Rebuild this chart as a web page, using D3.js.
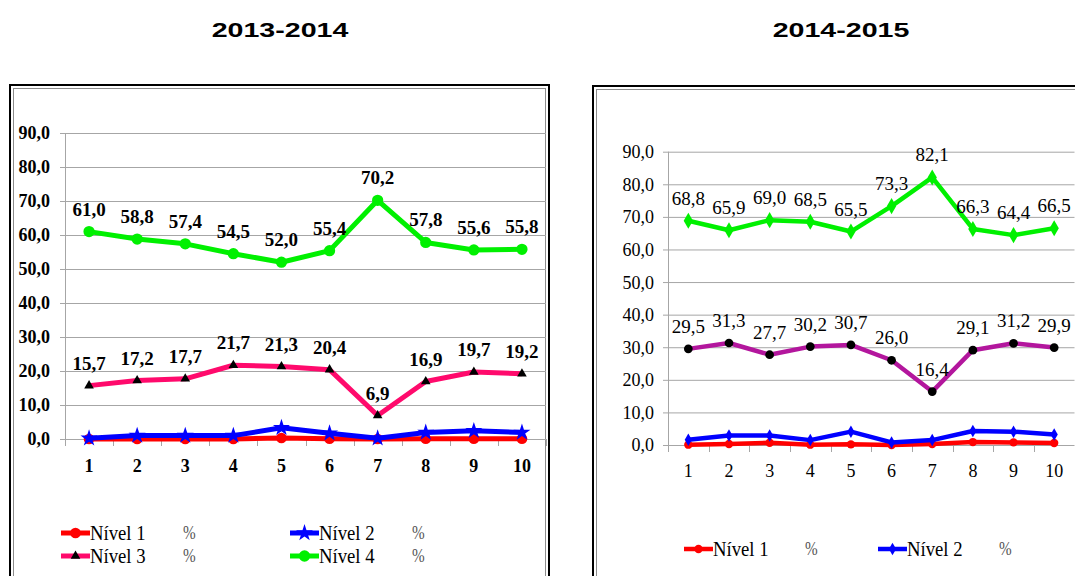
<!DOCTYPE html>
<html>
<head>
<meta charset="utf-8">
<script src="https://cdn.jsdelivr.net/npm/d3@7"></script>
<style>
  body { margin: 0; background: #fff; }
  svg { display: block; }
</style>
</head>
<body>
<div id="chart"></div>
<script>
// categories and tick values
const categories = ["1", "2", "3", "4", "5", "6", "7", "8", "9", "10"];
const yTicks = [0, 10, 20, 30, 40, 50, 60, 70, 80, 90];

// 2013-2014
const nivel1_1314 = [0.0, 0.0, 0.0, 0.0, 0.3, 0.1, 0.0, 0.1, 0.1, 0.1];
const nivel2_1314 = [0.2, 1.0, 1.0, 1.0, 3.3, 1.7, 0.2, 1.9, 2.4, 1.9];
const nivel3_1314 = [15.7, 17.2, 17.7, 21.7, 21.3, 20.4, 6.9, 16.9, 19.7, 19.2];
const nivel4_1314 = [61.0, 58.8, 57.4, 54.5, 52.0, 55.4, 70.2, 57.8, 55.6, 55.8];

// 2014-2015
const nivel1_1415 = [0.1, 0.3, 0.7, 0.1, 0.2, 0.0, 0.3, 0.9, 0.8, 0.6];
const nivel2_1415 = [1.6, 2.9, 2.9, 1.5, 4.1, 0.8, 1.5, 4.3, 4.1, 3.2];
const nivel3_1415 = [29.5, 31.3, 27.7, 30.2, 30.7, 26.0, 16.4, 29.1, 31.2, 29.9];
const nivel4_1415 = [68.8, 65.9, 69.0, 68.5, 65.5, 73.3, 82.1, 66.3, 64.4, 66.5];

const titles = ["2013-2014", "2014-2015"];

const W = 1075, H = 576;
const serif = "Liberation Serif";
const sans = "Liberation Sans";
const fmt = v => d3.format(".1f")(v).replace(".", ",");

const svg = d3.select("#chart").append("svg")
    .attr("width", W)
    .attr("height", H);

const panels = [
    {
        title: titles[0],
        titleX: 280,
        frame: { x: 10, y: 85, r: 549 },
        xRange: [65, 546],
        yRange: [439, 133],
        yLabelX: 50,
        xLabelY: 472,
        bold: "bold",
        series: [
            { name: "Nível 1", values: nivel1_1314, color: "#ff0000", symbol: d3.symbolCircle, size: 90, mark: "#ff0000", width: 5, labels: false },
            { name: "Nível 2", values: nivel2_1314, color: "#0000ff", symbol: d3.symbolStar, size: 90, mark: "#0000ff", width: 5, labels: false },
            { name: "Nível 3", values: nivel3_1314, color: "#ff0a6c", symbol: d3.symbolTriangle, size: 40, mark: "#000", width: 5, labels: true },
            { name: "Nível 4", values: nivel4_1314, color: "#00f000", symbol: d3.symbolCircle, size: 100, mark: "#00f000", width: 5, labels: true }
        ],
        legend: { cols: [61, 290], rows: [533, 556], pct: 122, perRow: 2 }
    },
    {
        title: titles[1],
        titleX: 841,
        frame: { x: 593, y: 86, r: 1100 },
        xRange: [668, 1074.5],
        yRange: [445, 151.7],
        yLabelX: 654,
        xLabelY: 477,
        bold: "normal",
        series: [
            { name: "Nível 1", values: nivel1_1415, color: "#ff0000", symbol: d3.symbolCircle, size: 55, mark: "#ff0000", width: 4.5, labels: false },
            { name: "Nível 2", values: nivel2_1415, color: "#0000ff", symbol: d3.symbolDiamond, size: 45, mark: "#0000ff", width: 4.5, labels: false },
            { name: "Nível 3", values: nivel3_1415, color: "#b3169d", symbol: d3.symbolCircle, size: 60, mark: "#000", width: 4.5, labels: true },
            { name: "Nível 4", values: nivel4_1415, color: "#00f000", symbol: d3.symbolDiamond, size: 75, mark: "#00f000", width: 4.5, labels: true }
        ],
        legend: { cols: [684, 878], rows: [549], pct: 121, perRow: 2, only: 2 }
    }
];

panels.forEach(drawPanel);

function drawPanel(p) {
    const g = svg.append("g");

    // title (stretched wide like the original)
    g.append("text")
        .attr("transform", `translate(${p.titleX},37) scale(1.43,1)`)
        .attr("text-anchor", "middle")
        .style("font-family", sans)
        .style("font-weight", "bold")
        .style("font-size", "20px")
        .text(p.title);

    // double frame
    const f = p.frame;
    g.append("rect")
        .attr("x", f.x).attr("y", f.y)
        .attr("width", f.r - f.x).attr("height", 600)
        .attr("fill", "none").attr("stroke", "#000").attr("stroke-width", 2);
    g.append("rect")
        .attr("x", f.x + 3.5).attr("y", f.y + 3.5)
        .attr("width", f.r - f.x - 7).attr("height", 600)
        .attr("fill", "none").attr("stroke", "#8c8c8c").attr("stroke-width", 1);

    const x = d3.scaleBand().domain(categories).range(p.xRange);
    const y = d3.scaleLinear().domain([0, 90]).range(p.yRange);
    const cx = c => x(c) + x.bandwidth() / 2;

    // gridlines + y ticks
    const yAxis = d3.axisLeft(y).tickValues(yTicks).tickSize(-(p.xRange[1] - p.xRange[0])).tickFormat("");
    const ya = g.append("g").attr("transform", `translate(${p.xRange[0]},0)`).call(yAxis);
    ya.select(".domain").remove();
    ya.selectAll("line").attr("stroke", "#a6a6a6").attr("x1", -5);

    // y axis line
    g.append("line")
        .attr("x1", p.xRange[0] + 0.5).attr("x2", p.xRange[0] + 0.5)
        .attr("y1", y(90)).attr("y2", y(0))
        .attr("stroke", "#a6a6a6");

    // y labels
    g.selectAll(".ylab").data(yTicks).join("text")
        .attr("class", "ylab")
        .attr("x", p.yLabelX)
        .attr("y", d => y(d))
        .attr("dy", "0.36em")
        .attr("text-anchor", "end")
        .style("font-family", serif)
        .style("font-size", "18px")
        .style("font-weight", p.bold)
        .text(fmt);

    // x axis ticks at category boundaries
    const bounds = categories.map(c => x(c)).concat([p.xRange[1]]);
    g.selectAll(".xtick").data(bounds).join("line")
        .attr("class", "xtick")
        .attr("x1", d => Math.round(d) + 0.5).attr("x2", d => Math.round(d) + 0.5)
        .attr("y1", y(0)).attr("y2", y(0) + 7)
        .attr("stroke", "#a6a6a6");

    g.selectAll(".xlab").data(categories).join("text")
        .attr("class", "xlab")
        .attr("x", cx)
        .attr("y", p.xLabelY)
        .attr("text-anchor", "middle")
        .style("font-family", serif)
        .style("font-size", "18px")
        .style("font-weight", p.bold)
        .text(d => d);

    // series lines and markers
    const line = d3.line().x((d, i) => cx(categories[i])).y(d => y(d));
    p.series.forEach(s => {
        g.append("path")
            .datum(s.values)
            .attr("d", line)
            .attr("fill", "none")
            .attr("stroke", s.color)
            .attr("stroke-width", s.width)
            .attr("stroke-linejoin", "round");
        g.selectAll(null).data(s.values).join("path")
            .attr("transform", (d, i) => `translate(${cx(categories[i])},${y(d)})`)
            .attr("d", d3.symbol().type(s.symbol).size(s.size))
            .attr("fill", s.mark);
    });

    // data labels
    p.series.filter(s => s.labels).forEach(s => {
        g.selectAll(null).data(s.values).join("text")
            .attr("x", (d, i) => cx(categories[i]))
            .attr("y", d => y(d) - 16)
            .attr("text-anchor", "middle")
            .style("font-family", serif)
            .style("font-size", "19px")
            .style("font-weight", p.bold)
            .text(fmt);
    });

    // legend
    const L = p.legend;
    const items = p.series.slice(0, L.only || p.series.length);
    items.forEach((s, i) => {
        const lx = L.cols[i % L.perRow];
        const ly = L.rows[Math.floor(i / L.perRow)];
        const lg = g.append("g").attr("transform", `translate(${lx},${ly})`);
        lg.append("line")
            .attr("x1", 0).attr("x2", 29)
            .attr("stroke", s.color).attr("stroke-width", s.width);
        lg.append("path")
            .attr("transform", "translate(14.5,0)")
            .attr("d", d3.symbol().type(s.symbol).size(s.size))
            .attr("fill", s.mark);
        lg.append("text")
            .attr("transform", "translate(29,7) scale(0.85,1)")
            .style("font-family", serif)
            .style("font-size", "22px")
            .text(s.name);
        lg.append("text")
            .attr("transform", `translate(${L.pct},6) scale(0.8,1)`)
            .style("font-family", serif)
            .style("font-size", "19px")
            .attr("fill", "#555")
            .text("%");
    });
}
</script>
</body>
</html>
